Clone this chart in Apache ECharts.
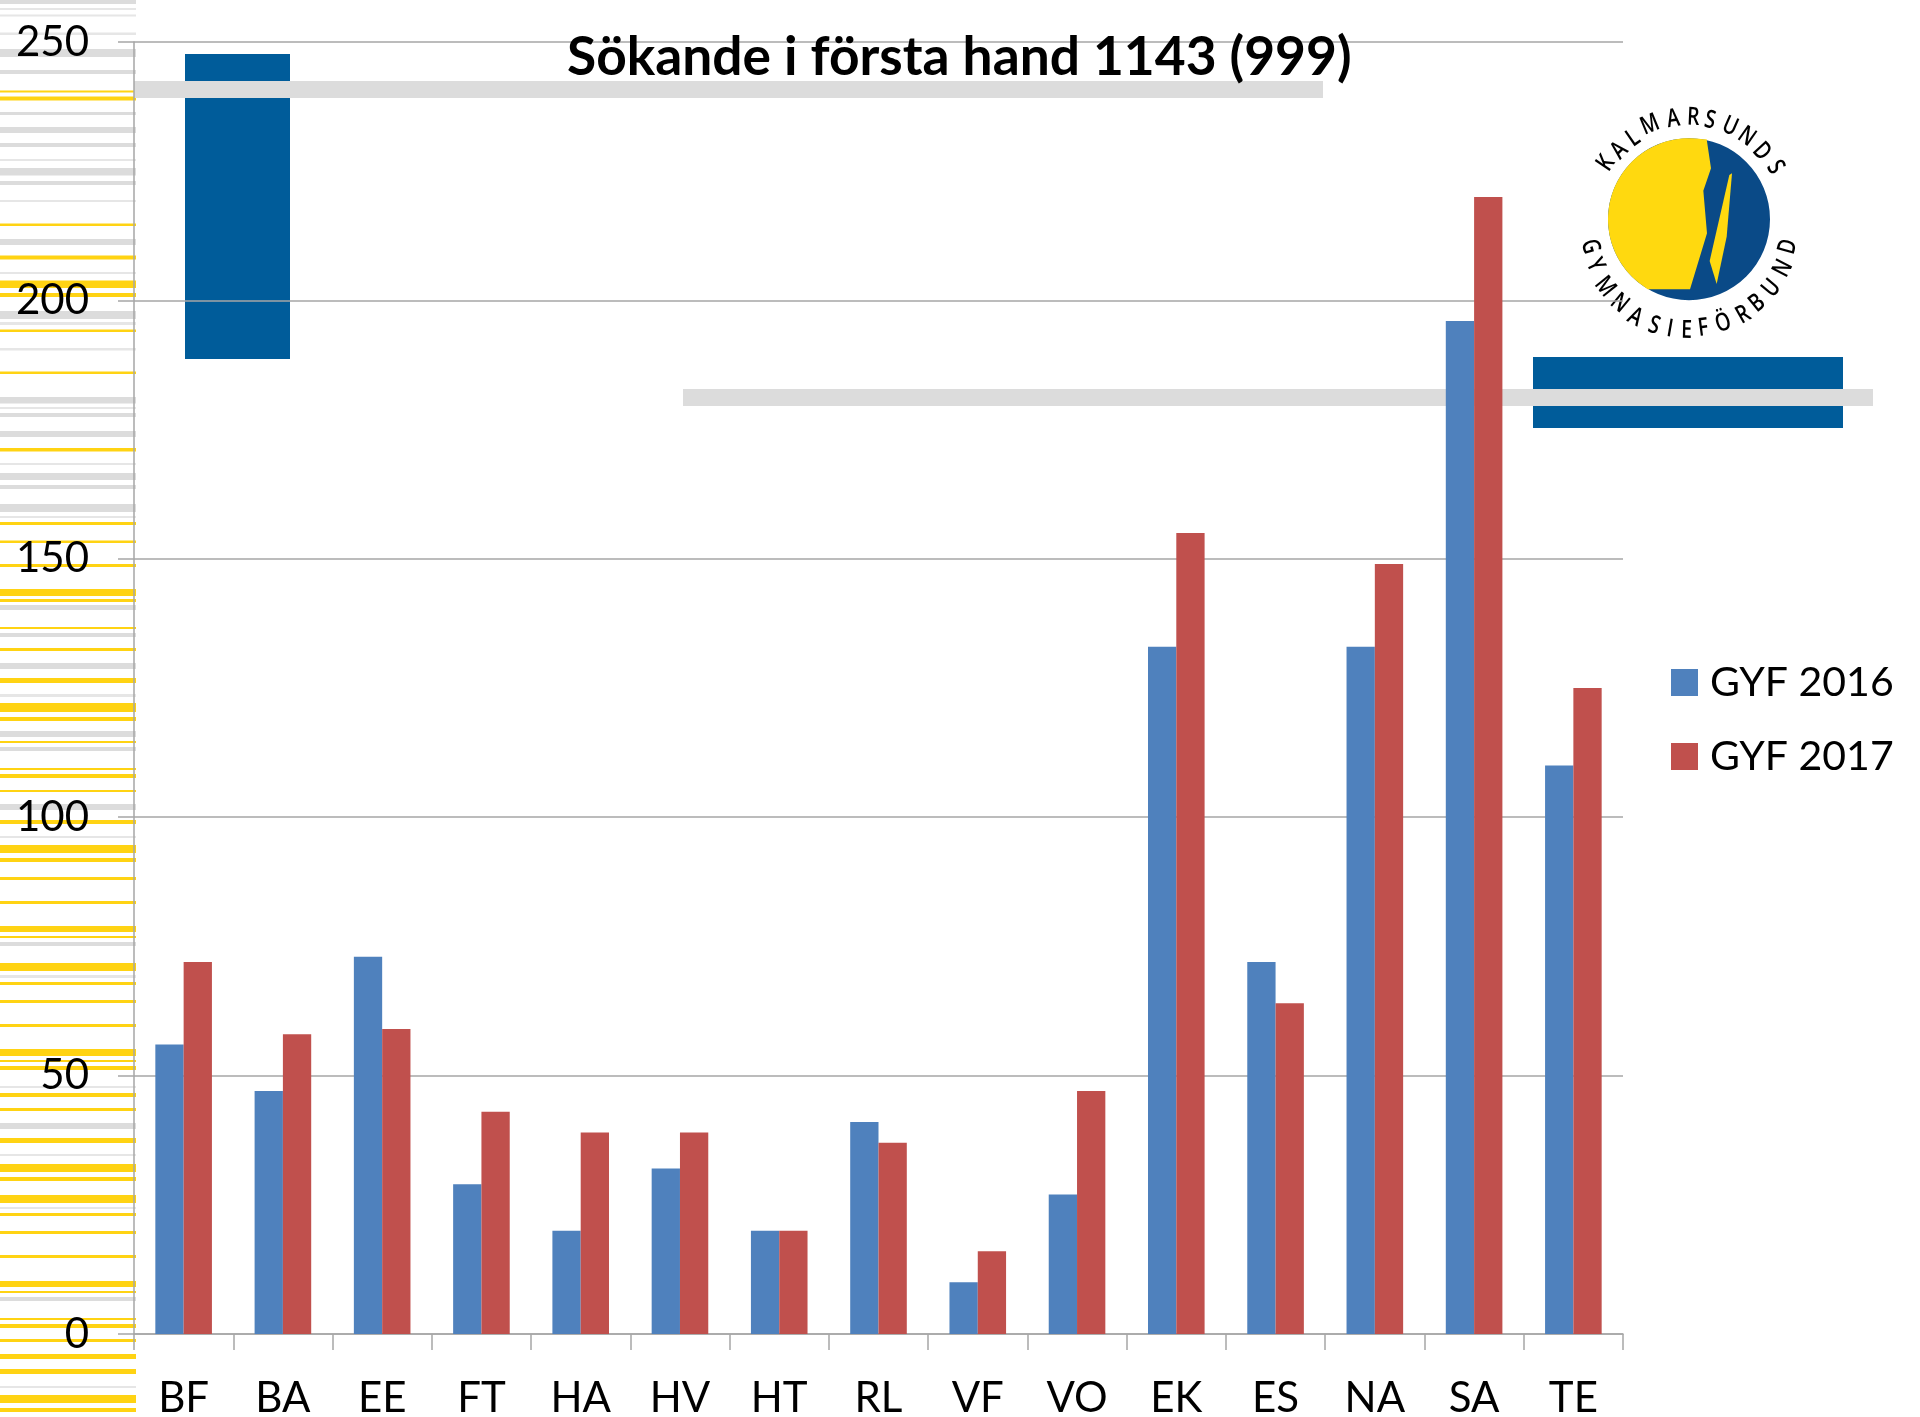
<!DOCTYPE html>
<html>
<head>
<meta charset="utf-8">
<style>html,body{margin:0;padding:0;background:#fff}#c{width:1920px;height:1417px}</style>
<script src="https://cdn.jsdelivr.net/npm/echarts@6/dist/echarts.min.js"></script>
</head>
<body>
<div id="c"></div>
<script>
const categories = ['BF','BA','EE','FT','HA','HV','HT','RL','VF','VO','EK','ES','NA','SA','TE'];
const gyf2016 = [56,47,73,29,20,32,20,41,10,27,133,72,133,196,110];
const gyf2017 = [72,58,59,43,39,39,20,37,16,47,155,64,149,220,125];
const titleText = 'Sökande i första hand 1143 (999)';
const logoTop = 'KALMARSUNDS';
const logoBottom = 'GYMNASIEFÖRBUND';

// decoration: stripes along the left edge [y0, y1]
const yellowStripes = [[90.5,92.5],[96.5,100.5],[223.5,226],[255.5,259.5],[280.5,288],[293,297],[329.5,332],[371.5,374],[448,451.5],[522,525],[540.5,543],[564,567],[589,596],[599,602],[627,629],[648,651],[678,683],[703,712],[717,721],[741,743],[768,770],[774,778],[790,792],[820,824],[845,853],[858,862],[877,880],[901,904],[926,932],[936,938],[963,971],[982,985],[1000,1003],[1024,1027],[1049,1056],[1060,1062],[1066,1070],[1093,1097],[1108,1111],[1138,1143],[1164,1172],[1177,1181],[1195,1203],[1213,1216],[1231,1234],[1255,1258],[1281,1287],[1291,1293],[1318,1320],[1324,1328],[1339,1342],[1354,1359],[1369,1374],[1395,1403],[1408,1412]];
const grayStripes = [[0,4],[49,57],[70,74],[112,115],[127,133],[143,147],[168,175.5],[181,185],[239,245],[311,319],[397,403.5],[413,417],[431,437],[473,480],[485,489],[504,512],[605,610],[633,637],[663,669],[731,737],[747,751],[804,810],[942,946],[1123,1129],[1297,1301]];
const lightStripes = [[8,10],[14.5,16.5],[32.5,35],[159,161],[200,202],[272,274],[322,325],[348,350.5],[407,409],[463,465],[516,518],[694,697],[836,838],[975,978],[1086,1088],[1154,1156],[1207,1209],[1386,1388]];

const graphics = [];
function band(list, fill){
  list.forEach(s => graphics.push({type:'rect', silent:true, shape:{x:0,y:s[0],width:136,height:s[1]-s[0]}, style:{fill}}));
}
band(grayStripes,'#dcdcdc');
band(lightStripes,'#e6e6e6');
band(yellowStripes,'#ffd313');

// blue blocks and grey bands
const blocks = [[185,54,105,305,'#005c9a'],[1533,357,310,71,'#005c9a'],[134,81,1189,17,'#dcdcdc'],[683,389,1190,17,'#dcdcdc']];
blocks.forEach(b => graphics.push({type:'rect', silent:true, shape:{x:b[0],y:b[1],width:b[2],height:b[3]}, style:{fill:b[4]}}));

// logo
const zx = v => 1500 + v/3, zy = v => 80 + v/3;
const cx = 567, cy = 417.5, R = 243;
graphics.push({type:'circle', silent:true, shape:{cx:zx(cx),cy:zy(cy),r:R/3}, style:{fill:'#0a4a87'}});
const sunPts = [[620,178],[633,265],[610,332],[621,460],[570,628],[443,628]].map(p=>[zx(p[0]),zy(p[1])]);
const a0 = Math.atan2(628-cy,443-cx), a1 = Math.atan2(178-cy,620-cx)+2*Math.PI;
for(let i=1;i<60;i++){const a=a0+(a1-a0)*i/60; sunPts.push([zx(cx+R*Math.cos(a)),zy(cy+R*Math.sin(a))]);}
graphics.push({type:'polygon', silent:true, shape:{points:sunPts}, style:{fill:'#ffd90f'}});
graphics.push({type:'polygon', silent:true, shape:{points:[[688,285],[696,280],[680,470],[650,612],[629,543]].map(p=>[zx(p[0]),zy(p[1])])}, style:{fill:'#ffd90f'}});
const topPos = [[318,250],[358,212],[400,175],[450,135],[520,118],[580,113],[630,122],[690,140],[740,170],[785,215],[825,262]];
const botPos = [[270,500],[285,555],[315,620],[358,670],[405,712],[462,738],[510,748],[560,752],[610,745],[670,730],[730,705],[772,670],[815,625],[850,565],[865,500]];
const logoFont = '600 25px "Open Sans",sans-serif';
function letters(text,pos,isTop){
  Array.from(text).forEach((ch,i)=>{
    const dx=pos[i][0]-cx, dy=pos[i][1]-cy;
    const rot = isTop ? -Math.atan2(dx,-dy) : Math.atan2(dx,dy);
    graphics.push({type:'text', silent:true, x:zx(pos[i][0]), y:zy(pos[i][1]), rotation:rot, scaleX:0.78,
      style:{text:ch, font:logoFont, fill:'#000', align:'center', verticalAlign:'middle'}});
  });
}
letters(logoTop,topPos,true);
letters(logoBottom,botPos,false);

const axisColor = '#a6a6a6';
const chart = echarts.init(document.getElementById('c'), null, {renderer:'canvas'});
chart.setOption({
  animation:false,
  backgroundColor:'#fff',
  textStyle:{fontFamily:'Lato'},
  graphic:{elements:graphics, z:0},
  title:{text:titleText, left:562, top:26, textStyle:{fontFamily:'Lato', fontSize:53.3, fontWeight:'bold', color:'#000'}},
  legend:{orient:'vertical', left:1666, top:657, itemWidth:27, itemHeight:27, itemGap:33, icon:'rect',
    textStyle:{fontFamily:'Lato', fontSize:41, color:'#000', padding:[0,0,0,7]}, data:['GYF 2016','GYF 2017']},
  grid:{left:134, right:297, top:42, bottom:83, containLabel:false, outerBoundsMode:'none'},
  xAxis:{type:'category', data:categories, z:1,
    axisLine:{show:true,lineStyle:{color:axisColor,width:1.5}},
    axisTick:{show:true,alignWithLabel:false,length:16,lineStyle:{color:axisColor,width:1.5}},
    axisLabel:{color:'#000',fontFamily:'Lato',fontSize:42,margin:43,interval:0}},
  yAxis:{type:'value', min:0, max:250, interval:50, z:1,
    axisLine:{show:true,lineStyle:{color:axisColor,width:1.5}},
    axisTick:{show:true,length:16,lineStyle:{color:axisColor,width:1.5}},
    axisLabel:{color:'#000',fontFamily:'Lato',fontSize:42,margin:45,padding:[3,0,0,0]},
    splitLine:{show:true,lineStyle:{color:axisColor,width:1.5}}},
  series:[
    {name:'GYF 2016', type:'bar', data:gyf2016, barWidth:28.3, barGap:0, itemStyle:{color:'#4f81bd'}},
    {name:'GYF 2017', type:'bar', data:gyf2017, barWidth:28.3, itemStyle:{color:'#c0504d'}}
  ]
});
</script>
</body>
</html>
